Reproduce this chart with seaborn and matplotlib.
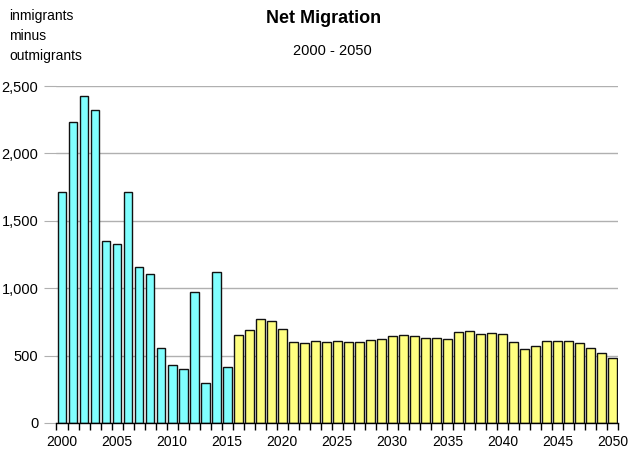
import seaborn as sns
import matplotlib.pyplot as plt
import pandas as pd
import numpy as np

years = list(range(2000, 2051))
net_migration = [
    1711, 2231, 2428, 2324, 1352, 1326, 1716, 1157, 1108, 558,
    433, 398, 972, 294, 1122, 413,
    650, 690, 771, 757, 695, 601, 591, 606, 601, 606,
    601, 601, 613, 621, 648, 653, 645, 628, 631, 621,
    673, 680, 663, 665, 658, 603, 546, 574, 608, 611,
    608, 591, 554, 522, 480,
]
period = ["estimate" if y <= 2015 else "projection" for y in years]
tick_years = [str(y) if y % 5 == 0 else "" for y in years]
label_lines = ["inmigrants", "minus", "outmigrants"]

df = pd.DataFrame({"year": years, "net": net_migration, "period": period})

sns.set_style("white")
plt.rcParams['font.family'] = ['Liberation Sans', 'DejaVu Sans']
plt.rcParams['text.color'] = 'black'
plt.rcParams['xtick.color'] = 'black'
plt.rcParams['ytick.color'] = 'black'

fig = plt.figure(figsize=(6.28, 4.54), dpi=100)
ax = fig.add_axes([56.5 / 628, 31 / 454, 561.5 / 628, 337 / 454])

sns.barplot(
    data=df, x="year", y="net", hue="period",
    palette={"estimate": "#80FFFF", "projection": "#FFFF80"},
    saturation=1, dodge=False, width=0.8, edgecolor="#111111", linewidth=1,
    legend=False, ax=ax, zorder=3
)

ax.set_xlim(-0.5, len(years) - 0.5)
ax.set_ylim(0, 2500)
ax.set_yticks(range(0, 2501, 500))
ax.set_yticklabels([f"{v:,}" for v in range(0, 2501, 500)], fontsize=10.5)
ax.yaxis.grid(True, color="#b0b0b0", linewidth=1, zorder=0)
ax.tick_params(axis="y", length=9, color="#b0b0b0", labelcolor="black", pad=4, left=True)

ax.set_xticks(range(len(years)))
ax.set_xticklabels(tick_years, fontsize=10)
ax.set_xticks(np.arange(-0.5, len(years), 1), minor=True)
ax.tick_params(axis="x", which="major", length=0, pad=9, labelcolor="black")
ax.tick_params(axis="x", which="minor", length=5, color="black", width=1, bottom=True)

for side in ["top", "right", "left"]:
    ax.spines[side].set_visible(False)
ax.spines["bottom"].set_color("black")
ax.spines["bottom"].set_linewidth(1)
ax.spines["bottom"].set_zorder(4)

ax.set_xlabel("")
ax.set_ylabel("")

fig.text(324 / 628, 1 - 23 / 454, "Net Migration", ha="center", va="baseline",
         fontsize=13, fontweight="bold")
fig.text(332 / 628, 1 - 55 / 454, "2000 - 2050", ha="center", va="baseline", fontsize=10.5)
for baseline, line in zip([20, 40, 60], label_lines):
    fig.text(9 / 628, 1 - baseline / 454, line, ha="left", va="baseline", fontsize=10)

plt.savefig("out.png", dpi=100)
